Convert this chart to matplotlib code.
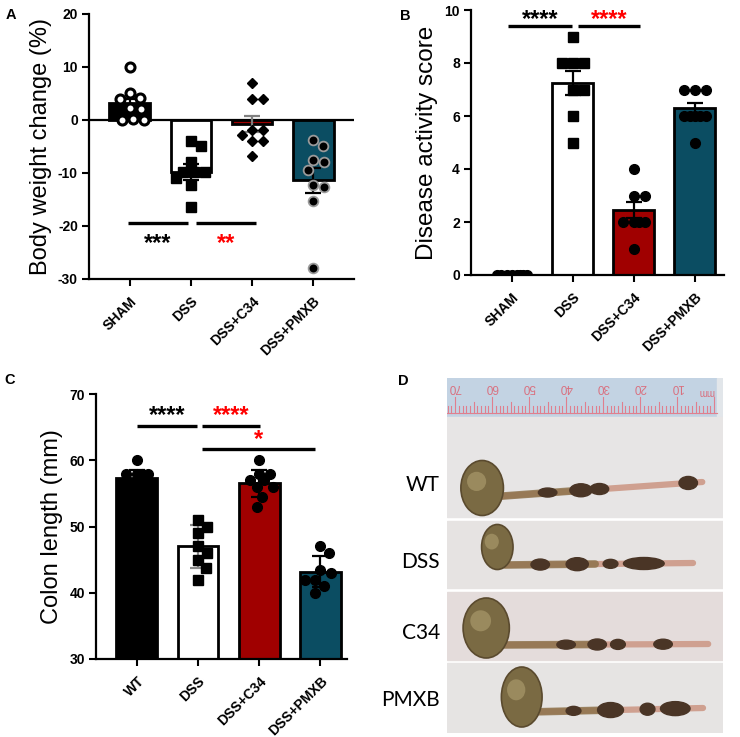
import numpy as np
import matplotlib.pyplot as plt
from matplotlib.patches import Rectangle, Ellipse

plt.rcParams['font.family'] = ['Liberation Sans', 'DejaVu Sans']
plt.rcParams['axes.unicode_minus'] = False

# ---- data ----
groups_ab = ['SHAM', 'DSS', 'DSS+C34', 'DSS+PMXB']
groups_c = ['WT', 'DSS', 'DSS+C34', 'DSS+PMXB']

weight_mean = [3.2, -9.8, -0.7, -11.4]
weight_err = [0.7, 1.5, 1.5, 2.3]
weight_pts = [
    [10, 5, 4.1, 3.9, 2.2, 2.0, 0.2, 0.0, 0.0],
    [-3.9, -5.0, -7.9, -9.9, -9.9, -9.9, -10.9, -12.3, -16.4],
    [7.0, 4.0, 4.0, -1.8, -1.8, -2.9, -4.0, -4.0, -6.8],
    [-3.8, -4.9, -7.6, -7.9, -9.5, -12.2, -12.6, -15.2, -28.0],
]

dai_mean = [0, 7.25, 2.45, 6.3]
dai_err = [0, 0.45, 0.3, 0.2]
dai_pts = [
    [0, 0, 0, 0, 0, 0, 0, 0],
    [9, 8, 8, 8, 7, 7, 6, 5],
    [4, 3, 3, 2, 2, 2, 2, 1],
    [7, 7, 7, 6, 6, 6, 6, 6, 5],
]

colon_mean = [57.3, 47.0, 56.5, 43.2]
colon_err = [1.3, 3.2, 2.0, 2.3]
colon_pts = [
    [60, 57.9, 57.9, 57.9, 57.9, 55.5, 54.5],
    [51, 50, 49, 47, 46, 45, 43.8, 42],
    [60, 58, 57.9, 57, 57, 56, 56, 54.5, 53],
    [47, 46, 43.5, 43, 42, 41.9, 41, 40],
]

photo_labels = ['WT', 'DSS', 'C34', 'PMXB']

# ---- styles ----
RED = '#a00000'
TEAL = '#0b4d62'
W, H = 740, 737

fig = plt.figure(figsize=(7.4, 7.37), dpi=100)


def px_axes(l, t, r, b):
    return fig.add_axes([l / W, 1 - b / H, (r - l) / W, (b - t) / H])


def swarm(vals, ppu, diam=11.0, ppx=61.0, maxw=0.5):
    # greedy beeswarm in pixel space, kept inside +-maxw/2 (overlap if needed)
    vals = np.asarray(vals, float)
    ys = vals * ppu
    lim = maxw / 2 * ppx
    steps = np.arange(1.0, lim + 0.01, 1.0)
    cand = np.concatenate([[0.0], np.column_stack([steps, -steps]).ravel()])
    placed = []
    offs = np.zeros(len(vals))
    for k in np.argsort(-vals, kind='stable'):
        best, best_d = 0.0, -1.0
        for cx in cand:
            d = min([np.hypot(cx - px, ys[k] - py) for px, py in placed] or [1e9])
            if d >= diam:
                best = cx
                break
            if d > best_d + 0.5:
                best, best_d = cx, d
        placed.append((best, ys[k]))
        offs[k] = best / ppx
    return offs


def bar_panel(ax, labels, means, errs, pts, fills, markers, ecols, ppu):
    x = np.arange(len(labels))
    ax.bar(x, means, width=0.67, color=fills, edgecolor='black', linewidth=2, zorder=2)
    for i in x:
        if errs[i] > 0:
            ax.errorbar(i, means[i], yerr=errs[i], fmt='none', ecolor=ecols[i],
                        elinewidth=1.6, capsize=6, capthick=1.6, zorder=3)
        xs = i + swarm(pts[i], ppu)
        m = markers[i]
        ax.plot(xs, pts[i], linestyle='none', marker=m[0], markersize=m[1],
                markerfacecolor=m[2], markeredgecolor=m[3], markeredgewidth=m[4], zorder=4)
    ax.set_xticks(x)
    ax.set_xticklabels(labels, rotation=45, ha='right', rotation_mode='anchor',
                       fontweight='bold', fontsize=10)
    for t in ax.get_yticklabels():
        t.set_fontweight('bold')
    ax.tick_params(axis='both', width=1.5, length=5, labelsize=10, pad=3)
    ax.tick_params(axis='x', pad=6)
    for s in ['top', 'right']:
        ax.spines[s].set_visible(False)
    for s in ['left', 'bottom']:
        ax.spines[s].set_linewidth(1.6)


def sig(ax, x0, x1, y, text, color, ty):
    ax.plot([x0, x1], [y, y], color='black', lw=2.4, solid_capstyle='butt', zorder=5)
    ax.text((x0 + x1) / 2, ty, text, color=color, fontsize=17, fontweight='bold',
            ha='center', va='center')


# ---- A ----
axA = px_axes(89, 14, 354, 279)
mk_a = [('o', 6.5, 'white', 'black', 2.2), ('s', 6.5, 'black', 'black', 1),
        ('D', 5.5, 'black', 'black', 1), ('o', 7, 'black', '#9a9a9a', 1.3)]
bar_panel(axA, groups_ab, weight_mean, weight_err, weight_pts,
          ['black', 'white', RED, TEAL], mk_a, ['black', 'black', '#808080', 'black'], 5.3)
axA.axhline(0, color='black', lw=1.6, zorder=2.5)
axA.set_xlim(-0.67, 3.67)
axA.set_ylim(-30, 20)
axA.set_yticks([-30, -20, -10, 0, 10, 20])
axA.set_ylabel('Body weight change (%)', fontsize=17)
axA.yaxis.set_label_coords(-0.14, 0.5)
sig(axA, -0.03, 0.95, -19.4, '***', 'black', -23.3)
sig(axA, 1.08, 2.07, -19.4, '**', 'red', -23.3)

# ---- B ----
axB = px_axes(471, 10, 724, 275)
mk_b = [('o', 7, 'black', 'black', 1), ('s', 7, 'black', 'black', 1),
        ('o', 7, 'black', 'black', 1), ('o', 7, 'black', 'black', 1)]
bar_panel(axB, groups_ab, dai_mean, dai_err, dai_pts,
          ['black', 'white', RED, TEAL], mk_b, ['black'] * 4, 26.5)
axB.set_xlim(-0.67, 3.48)
axB.set_ylim(0, 10)
axB.set_yticks(range(0, 11, 2))
axB.set_ylabel('Disease activity score', fontsize=17.5)
axB.yaxis.set_label_coords(-0.13, 0.5)
sig(axB, -0.06, 0.99, 9.4, '****', 'black', 9.65)
sig(axB, 1.08, 2.1, 9.4, '****', 'red', 9.65)

# ---- C ----
axC = px_axes(96, 394, 347, 659)
mk_c = [('o', 7, 'black', 'black', 1), ('s', 7, 'black', 'black', 1),
        ('o', 7, 'black', 'black', 1), ('o', 7, 'black', 'black', 1)]
bar_panel(axC, groups_c, colon_mean, colon_err, colon_pts,
          ['black', 'white', RED, TEAL], mk_c, ['black', '#8a8a8a', 'black', 'black'], 6.6)
axC.set_xlim(-0.67, 3.44)
axC.set_ylim(30, 70)
axC.set_yticks(range(30, 71, 10))
axC.set_ylabel('Colon length (mm)', fontsize=17)
axC.yaxis.set_label_coords(-0.13, 0.5)
sig(axC, 0.0, 0.98, 65.2, '****', 'black', 66.7)
sig(axC, 1.07, 2.02, 65.2, '****', 'red', 66.7)
sig(axC, 1.07, 2.92, 61.7, '*', 'red', 63.2)

# ---- D : sketch of the colon photo ----
axD = px_axes(447, 378, 723, 733)
axD.set_xlim(72.2, -2.4)
axD.set_ylim(733, 378)
axD.axis('off')

# ruler
axD.add_patch(Rectangle((-0.8, 378), 73.0, 38, color='#c3d3e3', zorder=1))
axD.add_patch(Rectangle((-2.4, 378), 1.6, 38, color='#e2e6ea', zorder=1))
for mm in range(0, 73):
    ln = 16 if mm % 10 == 0 else (11 if mm % 5 == 0 else 7)
    axD.plot([mm, mm], [413, 413 - ln], color='#e07f8e', lw=0.8, zorder=2)
axD.plot([72.2, -0.8], [413, 413], color='#e07f8e', lw=0.8, zorder=2)
for mm in range(10, 71, 10):
    axD.text(mm, 387, str(mm), rotation=180, color='#d9707f', fontsize=8.5,
             ha='center', va='center', zorder=3)
axD.text(2.2, 392, 'mm', rotation=180, color='#d9707f', fontsize=7,
         ha='center', va='center', zorder=3)

# photo strips: (top, bottom, bg, blob x, blob y, blob w, blob h, tube y0, tube y1, tube end, pellets)
strips = [
    (417, 517, '#e7e5e5', 62.7, 488, 11.5, 55, 497, 482, 3.2,
     [(36, 6, 13), (31, 5, 11), (7, 5, 13), (45, 5, 9)]),
    (521, 588, '#e6e3e2', 58.6, 547, 8.5, 45, 565, 563, 5.7,
     [(37, 6, 13), (47, 5, 11), (19, 11, 12), (28, 4, 9)]),
    (592, 660, '#e4dcdb', 61.6, 628, 12.5, 60, 645, 644, 1.6,
     [(31.6, 5, 11), (26, 4, 10), (13.8, 5, 10), (40, 5, 9)]),
    (663, 733, '#e6e4e3', 52.0, 697, 11.0, 60, 712, 708, 3.0,
     [(28, 7, 15), (18, 4, 12), (10.5, 8, 14), (38, 4, 9)]),
]
for top, bot, bg, bx, by, bw, bh, ty0, ty1, tend, pel in strips:
    axD.add_patch(Rectangle((-2.4, top), 74.6, bot - top, color=bg, zorder=1))
    axD.plot([bx - 2, tend], [ty0, ty1], color='#cfa090', lw=4.5,
             solid_capstyle='round', zorder=2)
    axD.plot([bx - 2, (bx + tend) / 2], [ty0, (ty0 + ty1) / 2], color='#8a7048',
             lw=5.5, alpha=0.8, solid_capstyle='round', zorder=2)
    for px, pw, ph in pel:
        py = ty0 + (ty1 - ty0) * (bx - px) / (bx - tend)
        axD.add_patch(Ellipse((px, py), pw, ph, color='#4a3526', zorder=3))
    axD.add_patch(Ellipse((bx, by), bw, bh, facecolor='#7a6a43',
                          edgecolor='#5a4a2e', lw=1.2, zorder=4))
    axD.add_patch(Ellipse((bx + 1.5, by - bh * 0.12), bw * 0.45, bh * 0.35,
                          facecolor='#9a8a5e', edgecolor='none', zorder=4))

label_y = [485, 562, 633, 700]
for lab, yy in zip(photo_labels, label_y):
    fig.text(440 / W, 1 - yy / H, lab, fontsize=15, family='Lato',
             ha='right', va='center')

# panel letters
for lab, xx, yy in [('A', 11, 15), ('B', 405, 16), ('C', 10, 380), ('D', 403, 381)]:
    fig.text(xx / W, 1 - yy / H, lab, fontsize=10.5, fontweight='bold',
             ha='center', va='center')

fig.savefig('out.png', dpi=100)
